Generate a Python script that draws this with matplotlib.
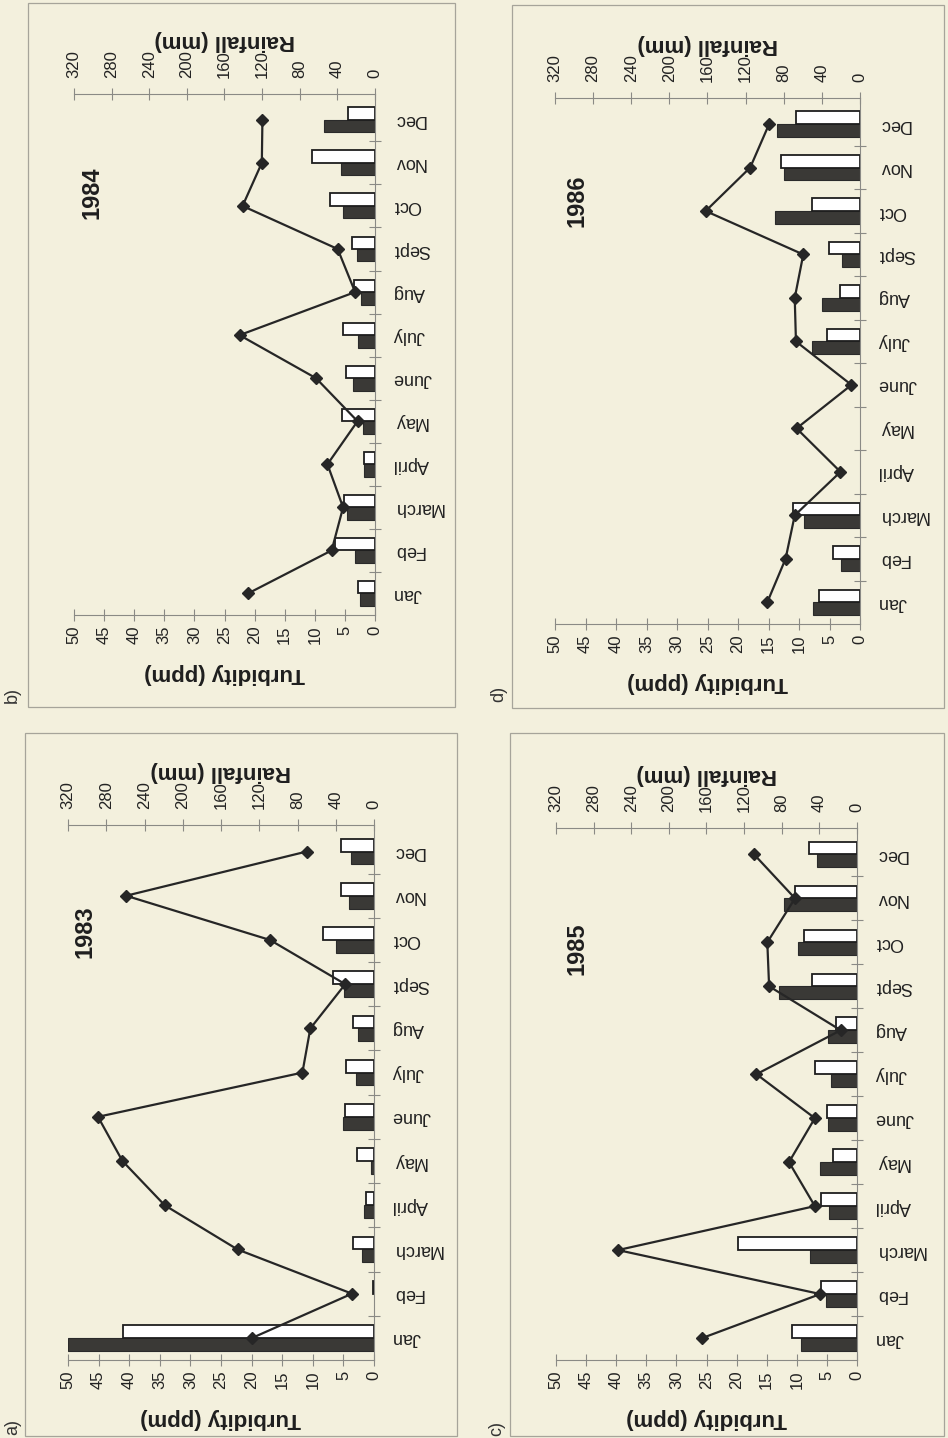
import matplotlib
matplotlib.use("Agg")
import matplotlib.pyplot as plt
from matplotlib.patches import Rectangle
import numpy as np

plt.rcParams['font.family'] = ['Liberation Sans', 'DejaVu Sans']

months = ["Jan", "Feb", "March", "April", "May", "June",
          "July", "Aug", "Sept", "Oct", "Nov", "Dec"]
turb_ticks = [0, 5, 10, 15, 20, 25, 30, 35, 40, 45, 50]
rain_ticks = [0, 40, 80, 120, 160, 200, 240, 280, 320]

# turbidity (ppm), line with diamonds
turb_1983 = [19.9, 3.6, 22.3, 34.2, 41.1, 45.1, 11.7, 10.4, 4.7, 17.0, 40.5, 11.0]
turb_1984 = [21.1, 7.2, 5.3, 7.9, 2.9, 9.8, 22.5, 3.3, 6.2, 22.0, 18.8, 18.7]
turb_1985 = [25.7, 6.1, 39.7, 7.0, 11.3, 7.0, 16.7, 2.7, 14.6, 14.9, 10.3, 17.1]
turb_1986 = [15.2, 12.2, 10.7, 3.2, 10.4, 1.4, 10.5, 10.7, 9.3, 25.3, 18.0, 14.9]

# rainfall (mm), dark and open bars
rain_dark_1983 = [320, 0, 13, 10, 3, 32, 19, 17, 31, 40, 26, 24]
rain_white_1983 = [263, 1, 22, 8, 18, 30, 29, 22, 43, 53, 34, 34]
rain_dark_1984 = [16, 21, 30, 12, 13, 23, 18, 15, 19, 34, 36, 54]
rain_white_1984 = [18, 43, 33, 12, 35, 31, 34, 22, 24, 48, 67, 29]
rain_dark_1985 = [60, 33, 50, 30, 39, 31, 28, 31, 83, 63, 78, 43]
rain_white_1985 = [69, 38, 127, 38, 26, 32, 45, 22, 48, 56, 66, 51]
rain_dark_1986 = [49, 20, 59, 0, 0, 0, 50, 40, 19, 89, 80, 87]
rain_white_1986 = [43, 28, 70, 0, 0, 0, 35, 21, 32, 50, 83, 67]

W, H = 948, 1438
BG = '#f3f0dd'
AXC = '#8a8a85'

fig = plt.figure(figsize=(W / 100, H / 100), dpi=100, facecolor=BG)


def px_rect(l, t, r, b):
    return [l / W, 1 - b / H, (r - l) / W, (b - t) / H]


def draw_panel(year, tag, turb, dark, white, box, frame, year_xy, tag_xy):
    l, t, r, b = frame
    fig.add_artist(Rectangle((l / W, 1 - b / H), (r - l) / W, (b - t) / H,
                             transform=fig.transFigure, fill=False,
                             edgecolor='#a6a49a', linewidth=0.9))

    ax = fig.add_axes(px_rect(*box))
    ax2 = ax.twiny()
    ax.set_zorder(ax2.get_zorder() + 1)
    ax.patch.set_visible(False)
    ax2.patch.set_visible(False)

    y = np.arange(len(months))
    h = 0.29
    lw_d = [0 if v == 0 else 0.8 for v in dark]
    lw_w = [0 if v == 0 else 1.3 for v in white]
    ax2.barh(y - h / 2, dark, height=h, color='#3a3936', edgecolor='#2a2a2a', linewidth=lw_d)
    ax2.barh(y + h / 2, white, height=h, color='white', edgecolor='#1e1e1e', linewidth=lw_w)
    ax.plot(turb, y, color='#262626', linewidth=1.6, marker='D', markersize=6,
            markerfacecolor='#262626', markeredgecolor='#262626')

    ax.set_xlim(50, 0)
    ax2.set_xlim(320, 0)
    ax.set_ylim(-0.5, 11.6)

    ax.set_xticks(turb_ticks)
    ax2.set_xticks(rain_ticks)
    ax.yaxis.tick_right()
    ax.set_yticks(y)
    ax.set_yticklabels(months, rotation=180, ha='left', va='center')
    ax.set_yticks(np.arange(0.5, 11, 1), minor=True)
    ax.tick_params(axis='y', which='major', length=0, pad=13, labelsize=13, labelcolor='#222222')
    ax.tick_params(axis='y', which='minor', direction='inout', length=9, width=0.8, color=AXC)
    ax.tick_params(axis='x', direction='inout', length=9, width=0.8, color=AXC,
                   labelsize=12, labelcolor='#222222', labelrotation=90, pad=3)
    ax2.tick_params(axis='x', direction='inout', length=9, width=0.8, color=AXC,
                    labelsize=12, labelcolor='#222222', labelrotation=90, pad=7)

    for s in ['top', 'left']:
        ax.spines[s].set_visible(False)
    for s in ['bottom', 'right']:
        ax.spines[s].set_color(AXC)
        ax.spines[s].set_linewidth(0.8)
    for s in ['bottom', 'left', 'right']:
        ax2.spines[s].set_visible(False)
    ax2.spines['top'].set_color(AXC)
    ax2.spines['top'].set_linewidth(0.8)

    ax.set_xlabel('Turbidity (ppm)', rotation=180, fontsize=16, fontweight='bold',
                  color='#1e1e1e', labelpad=14)
    ax2.set_xlabel('Rainfall (mm)', rotation=180, fontsize=16, fontweight='bold',
                   color='#1e1e1e', labelpad=3)

    fig.text(year_xy[0] / W, 1 - year_xy[1] / H, year, rotation=90, fontsize=17,
             fontweight='bold', ha='center', va='center', color='#1e1e1e')
    fig.text(tag_xy[0] / W, 1 - tag_xy[1] / H, tag, rotation=90, fontsize=13,
             ha='center', va='center', color='#333333')


draw_panel("1984", "b)", turb_1984, rain_dark_1984, rain_white_1984,
           (74, 94, 375, 615), (28, 3, 455, 707), (92, 193), (12, 695))
draw_panel("1986", "d)", turb_1986, rain_dark_1986, rain_white_1986,
           (555, 98, 860, 624), (512, 5, 944, 708), (577, 201), (499, 694))
draw_panel("1983", "a)", turb_1983, rain_dark_1983, rain_white_1983,
           (68, 825, 374, 1360), (25, 733, 457, 1436), (85, 932), (13, 1427))
draw_panel("1985", "c)", turb_1985, rain_dark_1985, rain_white_1985,
           (556, 828, 857, 1360), (510, 733, 944, 1436), (577, 949), (497, 1428))

fig.savefig('out.png', dpi=100, facecolor=BG)
